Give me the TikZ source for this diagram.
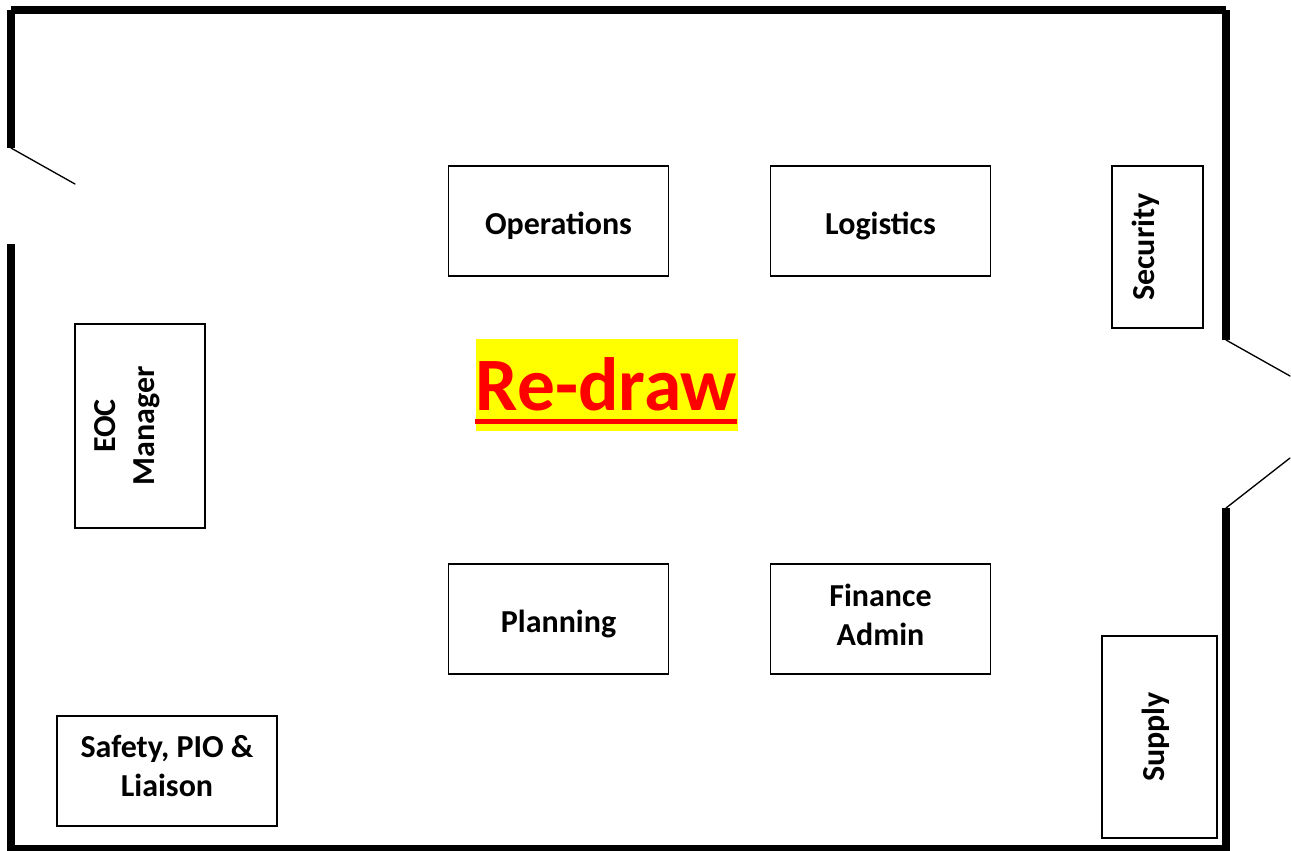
\documentclass[tikz,border=0pt]{standalone}
\usepackage{fontspec}
\setmainfont{Carlito}
\definecolor{stampbg}{RGB}{255,255,0}
\definecolor{stampfg}{RGB}{255,0,0}
\tikzset{
  x=0.75pt,y=-0.75pt,
  wall/.style={line width=6pt,line cap=butt,black},
  door/.style={line width=1pt,line cap=round,black},
  room/.style={draw=black,line width=1pt,fill=white,inner sep=0pt,align=center,font=\fontsize{24}{29.25}\selectfont\bfseries},
  wide/.style={minimum width=165.25pt,minimum height=82.5pt},
  oneline/.style={text height=19.5pt,text depth=0pt},
  stamp/.style={fill=stampbg,text=stampfg,inner sep=0pt,font=\fontsize{56.6}{60}\selectfont\bfseries}
}
\begin{document}
\begin{tikzpicture}
\useasboundingbox (0,0) rectangle (1291,850);
% walls
\coordinate (tl) at (11,10);
\coordinate (tlb) at (11,148);
\coordinate (ll) at (11,244);
\coordinate (bl) at (11,850);
\coordinate (tt1) at (11,10);
\coordinate (tt2) at (1226,10);
\coordinate (tr) at (1226,10);
\coordinate (rt) at (1226,340);
\coordinate (rb) at (1226,508);
\coordinate (br) at (1226,850);
\coordinate (bb1) at (7,849);
\coordinate (bb2) at (1230,849);
\coordinate (d1) at (75,184);
\coordinate (d2) at (1290,376);
\coordinate (d3) at (1290,458);
\draw[wall] (tl) -- (tlb);
\draw[wall] (ll) -- (bl);
\draw[wall] (tt1) -- (tt2);
\draw[wall] (tr) -- (rt);
\draw[wall] (rb) -- (br);
\draw[wall] (bb1) -- (bb2);
\draw[door] (tlb) -- (d1);
\draw[door] (rt) -- (d2);
\draw[door] (rb) -- (d3);
% rooms
\node[room,wide,oneline] (ops) at (558.5,221) {Operations};
\node[room,wide,oneline] (log) at (880.5,221) {Logistics};
\node[room,wide,oneline] (plan) at (558.5,619) {Planning};
\node[room,wide,text depth=7pt] (fin) at (880.5,619) {Finance\\Admin};
\node[room,minimum width=165pt,minimum height=82.5pt,text depth=7pt] (saf) at (167,771) {Safety, PIO \&\\Liaison};
\node[room,rotate=90,minimum width=153pt,minimum height=97.5pt,text depth=22.75pt] (eoc) at (140,426) {EOC\\Manager};
\node[room,rotate=90,minimum width=121.5pt,minimum height=68.25pt,text height=0pt,text depth=5.25pt] (sec) at (1157.5,247) {Security};
\node[room,rotate=90,minimum width=151.5pt,minimum height=86.25pt,text height=6.75pt,text depth=0pt] (sup) at (1159.5,737) {Supply};
% stamp
\node[stamp,minimum width=196.5pt,minimum height=69pt,text height=37.5pt,text depth=0pt] (redraw) at (606.5,385) {Re-draw};
\fill[stampfg] (475,419) rectangle (737,424);
\end{tikzpicture}
\end{document}
